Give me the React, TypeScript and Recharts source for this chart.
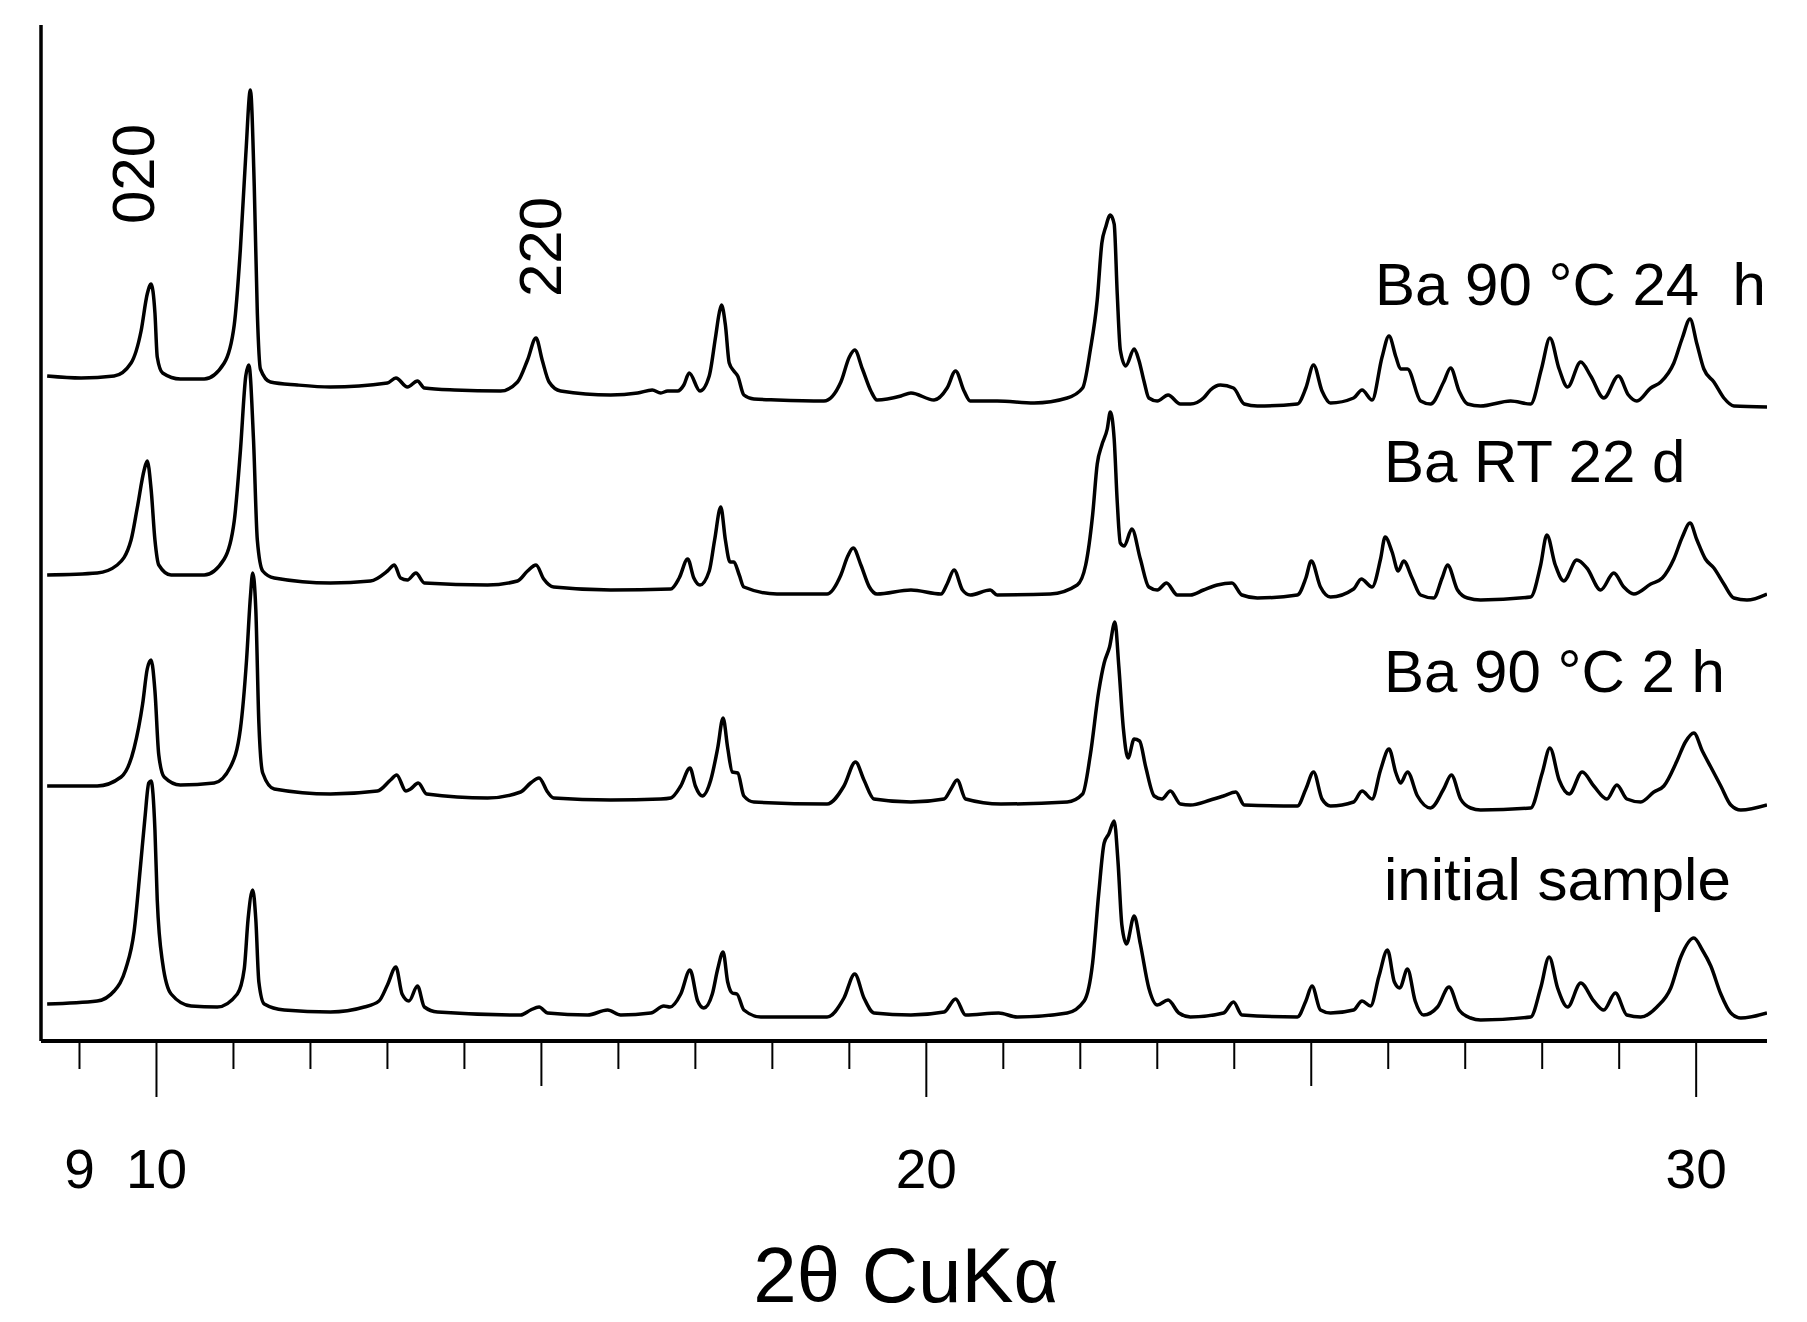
import { LineChart, Line, XAxis, YAxis } from 'recharts'

// 2θ (deg) and plotted intensity (arbitrary units, stacked offsets included)
const ba24h: [number, number][] = [
  [8.58, 665], [9.02, 663], [9.45, 665], [9.67, 678], [9.8, 710], [9.88, 747], [9.93, 757], [9.98, 728],
  [10.01, 684], [10.08, 668], [10.31, 662], [10.62, 662], [10.88, 678], [11.01, 716], [11.09, 792],
  [11.16, 886], [11.22, 951], [11.27, 855], [11.31, 728], [11.35, 672], [11.48, 659], [11.83, 656],
  [12.26, 654], [13.0, 658], [13.11, 663], [13.26, 654], [13.39, 660], [13.48, 653], [13.87, 651],
  [14.47, 650], [14.69, 659], [14.82, 681], [14.93, 703], [15.01, 681], [15.1, 659], [15.25, 650],
  [15.9, 646], [16.25, 648], [16.44, 651], [16.55, 648], [16.64, 650], [16.77, 650], [16.85, 656],
  [16.92, 668], [17.06, 650], [17.18, 665], [17.26, 703], [17.31, 728], [17.34, 736], [17.39, 716],
  [17.44, 678], [17.5, 670], [17.55, 665], [17.63, 646], [17.76, 642], [18.06, 641], [18.67, 640],
  [18.89, 659], [19.0, 684], [19.07, 691], [19.17, 672], [19.28, 650], [19.36, 641], [19.67, 645],
  [19.8, 648], [20.1, 641], [20.27, 653], [20.38, 670], [20.49, 650], [20.57, 640], [20.92, 640],
  [21.4, 638], [21.83, 643], [22.03, 653], [22.13, 691], [22.22, 741], [22.28, 798], [22.33, 814],
  [22.39, 826], [22.44, 817], [22.48, 747], [22.52, 691], [22.59, 675], [22.7, 692], [22.76, 681],
  [22.83, 659], [22.89, 643], [23.0, 640], [23.14, 646], [23.3, 637], [23.43, 637], [23.6, 643],
  [23.69, 651], [23.82, 656], [23.99, 653], [24.13, 637], [24.3, 635], [24.82, 637], [24.93, 653],
  [25.03, 676], [25.14, 650], [25.25, 638], [25.55, 643], [25.66, 651], [25.79, 641], [25.92, 684],
  [26.01, 705], [26.1, 684], [26.16, 672], [26.25, 672], [26.42, 640], [26.55, 637], [26.72, 659],
  [26.81, 673], [26.92, 650], [27.03, 637], [27.2, 635], [27.59, 640], [27.85, 637], [27.99, 672],
  [28.1, 703], [28.22, 672], [28.33, 654], [28.5, 679], [28.63, 665], [28.8, 643], [28.99, 665],
  [29.12, 646], [29.23, 640], [29.41, 653], [29.54, 659], [29.71, 678], [29.82, 703], [29.92, 722],
  [30.01, 697], [30.1, 672], [30.23, 659], [30.36, 643], [30.49, 635], [30.92, 634],
]

const baRT22d: [number, number][] = [
  [8.58, 466], [9.23, 468], [9.49, 476], [9.67, 501], [9.75, 533], [9.84, 571], [9.88, 580], [9.93, 552],
  [9.98, 501], [10.03, 476], [10.19, 466], [10.62, 466], [10.88, 482], [11.01, 520], [11.09, 590],
  [11.16, 665], [11.2, 676], [11.26, 602], [11.31, 501], [11.38, 470], [11.53, 463], [12.26, 458],
  [12.78, 460], [13.0, 470], [13.09, 476], [13.17, 463], [13.26, 461], [13.37, 468], [13.48, 458],
  [14.3, 456], [14.69, 460], [14.82, 470], [14.93, 476], [15.03, 462], [15.16, 454], [15.9, 451],
  [16.68, 452], [16.79, 463], [16.9, 482], [16.98, 463], [17.06, 456], [17.18, 470], [17.25, 501],
  [17.33, 534], [17.39, 501], [17.45, 479], [17.5, 479], [17.57, 466], [17.63, 454], [18.06, 447],
  [18.71, 447], [18.89, 466], [18.98, 485], [19.05, 493], [19.15, 476], [19.26, 454], [19.36, 447],
  [19.8, 451], [20.19, 447], [20.27, 457], [20.36, 471], [20.47, 451], [20.57, 446], [20.83, 451],
  [20.92, 446], [21.61, 447], [21.96, 456], [22.07, 476], [22.16, 526], [22.22, 577], [22.28, 596],
  [22.35, 612], [22.39, 629], [22.44, 602], [22.48, 539], [22.52, 498], [22.57, 495], [22.67, 512],
  [22.78, 482], [22.89, 454], [23.0, 451], [23.12, 458], [23.26, 446], [23.43, 446], [23.6, 451],
  [23.78, 456], [23.97, 458], [24.1, 446], [24.3, 443], [24.82, 446], [24.93, 463], [25.0, 480],
  [25.12, 454], [25.25, 444], [25.55, 452], [25.65, 462], [25.79, 454], [25.9, 482], [25.96, 504],
  [26.05, 489], [26.13, 470], [26.2, 480], [26.31, 463], [26.42, 446], [26.59, 443], [26.7, 463],
  [26.77, 476], [26.9, 451], [27.03, 443], [27.2, 441], [27.85, 444], [27.98, 476], [28.06, 506],
  [28.17, 476], [28.28, 460], [28.45, 481], [28.58, 473], [28.76, 451], [28.93, 468], [29.06, 454],
  [29.19, 447], [29.41, 457], [29.56, 463], [29.71, 482], [29.82, 504], [29.92, 518], [30.01, 501],
  [30.12, 482], [30.23, 473], [30.36, 457], [30.49, 443], [30.66, 441], [30.92, 447],
]

const ba2h: [number, number][] = [
  [8.58, 255], [9.23, 255], [9.54, 264], [9.71, 293], [9.82, 337], [9.88, 372], [9.93, 381], [9.98, 350],
  [10.03, 286], [10.1, 264], [10.31, 256], [10.75, 258], [10.96, 274], [11.09, 312], [11.17, 381],
  [11.22, 444], [11.25, 468], [11.29, 432], [11.33, 318], [11.38, 268], [11.53, 252], [12.26, 247],
  [12.87, 250], [13.04, 261], [13.12, 266], [13.24, 250], [13.3, 252], [13.4, 258], [13.51, 247],
  [14.3, 243], [14.73, 249], [14.86, 258], [14.97, 263], [15.08, 249], [15.16, 243], [15.9, 241],
  [16.55, 242], [16.68, 243], [16.81, 255], [16.93, 273], [17.0, 255], [17.09, 245], [17.2, 261],
  [17.29, 293], [17.36, 323], [17.42, 293], [17.48, 269], [17.55, 268], [17.63, 245], [17.76, 239],
  [18.71, 237], [18.93, 255], [19.08, 279], [19.19, 261], [19.32, 242], [19.8, 239], [20.23, 242],
  [20.32, 252], [20.4, 261], [20.51, 242], [20.97, 237], [21.83, 239], [22.03, 247], [22.13, 286],
  [22.24, 350], [22.31, 378], [22.38, 394], [22.45, 419], [22.5, 375], [22.56, 312], [22.62, 283],
  [22.7, 302], [22.77, 300], [22.85, 274], [22.96, 245], [23.06, 242], [23.17, 250], [23.3, 237],
  [23.43, 236], [23.69, 241], [23.86, 245], [24.02, 249], [24.13, 236], [24.82, 235], [24.93, 252],
  [25.03, 269], [25.14, 242], [25.25, 235], [25.55, 239], [25.66, 250], [25.79, 242], [25.9, 271],
  [26.01, 292], [26.1, 268], [26.16, 258], [26.25, 269], [26.38, 245], [26.55, 233], [26.72, 252],
  [26.82, 266], [26.94, 242], [27.07, 233], [27.2, 231], [27.85, 233], [28.0, 268], [28.1, 293],
  [28.22, 261], [28.35, 247], [28.52, 269], [28.67, 255], [28.84, 242], [28.97, 256], [29.1, 242],
  [29.28, 239], [29.45, 249], [29.58, 255], [29.75, 280], [29.86, 299], [29.97, 308], [30.08, 290],
  [30.19, 274], [30.32, 255], [30.45, 236], [30.58, 231], [30.92, 236],
]

const initialSample: [number, number][] = [
  [8.58, 37], [9.23, 40], [9.45, 50], [9.6, 72], [9.71, 110], [9.79, 173], [9.85, 223], [9.9, 258],
  [9.93, 260], [9.98, 211], [10.01, 141], [10.08, 78], [10.19, 47], [10.45, 35], [10.79, 34],
  [11.05, 47], [11.14, 72], [11.19, 122], [11.25, 151], [11.29, 122], [11.33, 59], [11.4, 37],
  [11.66, 31], [12.26, 29], [12.7, 34], [12.89, 40], [13.0, 56], [13.11, 74], [13.19, 47], [13.28, 40],
  [13.39, 55], [13.48, 34], [13.65, 29], [14.73, 26], [14.86, 31], [14.97, 34], [15.08, 28],
  [15.6, 26], [15.86, 31], [16.03, 26], [16.42, 28], [16.59, 35], [16.67, 34], [16.81, 47], [16.93, 71],
  [17.03, 40], [17.11, 33], [17.22, 47], [17.29, 72], [17.36, 89], [17.42, 59], [17.48, 48],
  [17.54, 47], [17.63, 31], [17.85, 24], [18.71, 24], [18.93, 43], [19.07, 67], [19.19, 43],
  [19.32, 28], [19.8, 26], [20.23, 29], [20.38, 42], [20.51, 26], [20.94, 28], [21.18, 24],
  [21.83, 28], [22.05, 40], [22.16, 78], [22.24, 148], [22.31, 198], [22.37, 207], [22.44, 220],
  [22.49, 179], [22.54, 116], [22.6, 97], [22.7, 125], [22.78, 97], [22.89, 53], [23.0, 36],
  [23.14, 41], [23.28, 28], [23.43, 24], [23.86, 28], [23.99, 39], [24.1, 26], [24.82, 24],
  [24.93, 40], [25.01, 55], [25.12, 31], [25.25, 28], [25.55, 31], [25.66, 40], [25.77, 35],
  [25.88, 65], [25.99, 91], [26.08, 59], [26.15, 53], [26.25, 72], [26.35, 40], [26.46, 26],
  [26.64, 34], [26.79, 54], [26.92, 31], [27.07, 23], [27.2, 21], [27.85, 24], [27.98, 53],
  [28.09, 84], [28.2, 53], [28.33, 34], [28.5, 58], [28.67, 40], [28.8, 31], [28.95, 48], [29.1, 26],
  [29.28, 24], [29.49, 34], [29.67, 53], [29.8, 84], [29.97, 103], [30.08, 91], [30.19, 75],
  [30.32, 47], [30.45, 28], [30.58, 23], [30.92, 28],
]

const sampleNames = ['Ba 90 °C 24  h', 'Ba RT 22 d', 'Ba 90 °C 2 h', 'initial sample']
const tickValues = [9, 10, 11, 12, 13, 14, 15, 16, 17, 18, 19, 20, 21, 22, 23, 24, 25, 26, 27, 28, 29, 30]
const labelledTicks = [9, 10, 20, 30]
const reflections = ['020', '220']

const toRows = (pts: [number, number][]) => pts.map(([x, y]) => ({ x, y }))
const series = [ba24h, baRT22d, ba2h, initialSample].map(toRows)

const font = '"Liberation Sans", Arial, sans-serif'

function AxisTick(props: any) {
  const { x, y, payload } = props
  const v = payload.value
  const len = v % 10 === 0 ? 56 : v % 5 === 0 ? 45 : 28
  return (
    <g>
      <line x1={x} y1={y} x2={x} y2={y + len} stroke="#000" strokeWidth={2} />
      {labelledTicks.includes(v) && (
        <text x={x} y={y + 147} textAnchor="middle" fontSize={55} fontFamily={font} fill="#000">
          {v}
        </text>
      )}
    </g>
  )
}

export default function App() {
  return (
    <div style={{ position: 'fixed', left: 0, top: 0, width: 1807, height: 1322, background: '#fff' }}>
      <LineChart width={1807} height={1322} margin={{ top: 25, right: 40, bottom: 0, left: 31 }}>
        <XAxis
          type="number"
          dataKey="x"
          domain={[8.5, 30.92]}
          allowDataOverflow
          ticks={tickValues}
          interval={0}
          height={281}
          tickLine={false}
          tickSize={0}
          tickMargin={0}
          tick={<AxisTick />}
          axisLine={{ stroke: '#000', strokeWidth: 4 }}
        />
        <YAxis
          type="number"
          domain={[0, 1016]}
          allowDataOverflow
          width={10}
          tick={false}
          tickLine={false}
          axisLine={{ stroke: '#000', strokeWidth: 3.5 }}
        />
        {series.map((rows, i) => (
          <Line
            key={sampleNames[i]}
            data={rows}
            dataKey="y"
            type="monotone"
            stroke="#000"
            strokeWidth={3.5}
            dot={false}
            activeDot={false}
            isAnimationActive={false}
          />
        ))}
        <text x={1375} y={305} fontSize={60} fontFamily={font} style={{ whiteSpace: 'pre' }}>{sampleNames[0]}</text>
        <text x={1384} y={482} fontSize={60} fontFamily={font} style={{ whiteSpace: 'pre' }}>{sampleNames[1]}</text>
        <text x={1384} y={692} fontSize={60} fontFamily={font} style={{ whiteSpace: 'pre' }}>{sampleNames[2]}</text>
        <text x={1384} y={900} fontSize={60} fontFamily={font} style={{ whiteSpace: 'pre' }}>{sampleNames[3]}</text>
        <text transform="translate(133,174) rotate(-90)" textAnchor="middle" dominantBaseline="central" fontSize={60} fontFamily={font}>
          {reflections[0]}
        </text>
        <text transform="translate(540,247) rotate(-90)" textAnchor="middle" dominantBaseline="central" fontSize={60} fontFamily={font}>
          {reflections[1]}
        </text>
        <text x={906} y={1302} textAnchor="middle" fontSize={78} fontFamily={font}>2θ CuKα</text>
      </LineChart>
    </div>
  )
}
